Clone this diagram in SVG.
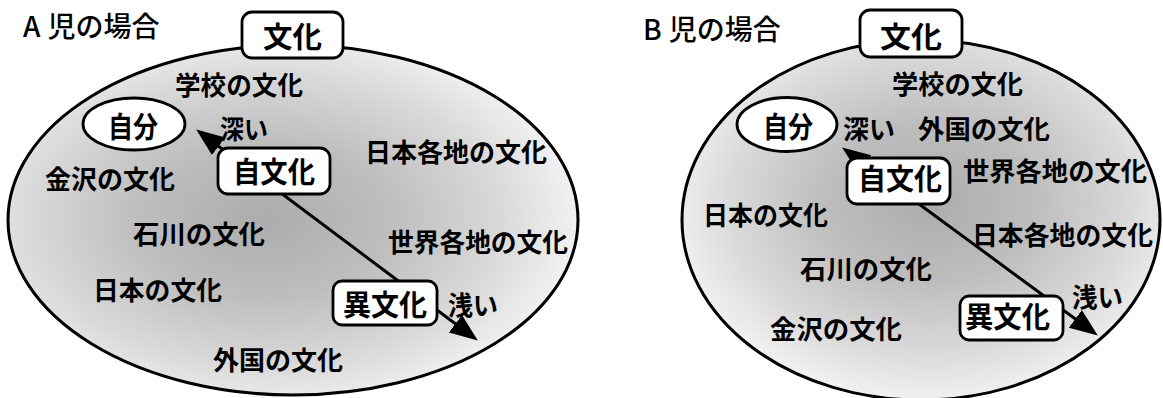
<svg xmlns="http://www.w3.org/2000/svg" width="1163" height="398" viewBox="0 0 1163 398">
<style>
text{font-family:"Noto Sans CJK JP","Noto Sans CJK SC",sans-serif;fill:#000}
.title{font-size:28px;font-weight:500}
.lbl{font-size:26px;font-weight:700}
.bx{font-size:29px;font-weight:700}
.box{fill:#fff;stroke:#000;stroke-width:2.8}
.outer{stroke:#000;stroke-width:3}
.conn{stroke:#000;stroke-width:3;fill:none}
</style>
<defs>
<radialGradient id="gL" cx="0.45" cy="0.5" r="0.56">
<stop offset="0" stop-color="#acacac"/>
<stop offset="0.4" stop-color="#bebebe"/>
<stop offset="0.75" stop-color="#dadada"/>
<stop offset="1" stop-color="#f3f3f3"/>
</radialGradient>
<radialGradient id="gR" cx="0.52" cy="0.45" r="0.56">
<stop offset="0" stop-color="#acacac"/>
<stop offset="0.4" stop-color="#bebebe"/>
<stop offset="0.75" stop-color="#dadada"/>
<stop offset="1" stop-color="#f3f3f3"/>
</radialGradient>
<marker id="ah" markerUnits="userSpaceOnUse" markerWidth="30" markerHeight="24" refX="17" refY="11" orient="auto-start-reverse">
<path d="M0,0 L28,11 L0,22 z" fill="#000"/>
</marker>
</defs>

<!-- Left: A児 -->
<g id="titleA"><text class="title" x="23" y="37">A<tspan dx="7">児の場合</tspan></text></g>
<g id="cultureA">
<ellipse class="outer" cx="293" cy="220" rx="285" ry="175" fill="url(#gL)"/>
</g>
<g id="labelsA">
<text class="lbl" x="175" y="95" textLength="128" lengthAdjust="spacingAndGlyphs">学校の文化</text>
<text class="lbl" x="220" y="139" textLength="48" lengthAdjust="spacingAndGlyphs">深い</text>
<text class="lbl" x="45" y="189" textLength="130" lengthAdjust="spacingAndGlyphs">金沢の文化</text>
<text class="lbl" x="365" y="162" textLength="182" lengthAdjust="spacingAndGlyphs">日本各地の文化</text>
<text class="lbl" x="133" y="244" textLength="132" lengthAdjust="spacingAndGlyphs">石川の文化</text>
<text class="lbl" x="93" y="300" textLength="129" lengthAdjust="spacingAndGlyphs">日本の文化</text>
<text class="lbl" x="213" y="370" textLength="130" lengthAdjust="spacingAndGlyphs">外国の文化</text>
<text class="lbl" x="388" y="252" textLength="180" lengthAdjust="spacingAndGlyphs">世界各地の文化</text>
<text class="lbl" x="448" y="315" textLength="50" lengthAdjust="spacingAndGlyphs">浅い</text>
</g>
<g id="connectorsA">
<path class="conn" d="M205,136 L469,334" marker-start="url(#ah)" marker-end="url(#ah)"/>
</g>
<g id="bunkaA">
<rect class="box" x="242" y="12" width="101" height="46" rx="10"/>
<text class="bx" x="263" y="48" textLength="59" lengthAdjust="spacingAndGlyphs">文化</text>
</g>
<g id="jibunA">
<ellipse class="box" cx="134" cy="124" rx="51" ry="26"/>
<text class="bx" x="108" y="138" textLength="50" lengthAdjust="spacingAndGlyphs">自分</text>
</g>
<g id="jibunkaA">
<rect class="box" x="218" y="148" width="112" height="46" rx="10"/>
<text class="bx" x="233" y="183" textLength="82" lengthAdjust="spacingAndGlyphs">自文化</text>
</g>
<g id="ibunkaA">
<rect class="box" x="333" y="281" width="104" height="44" rx="9"/>
<text class="bx" x="343" y="316" textLength="84" lengthAdjust="spacingAndGlyphs">異文化</text>
</g>

<!-- Right: B児 -->
<g id="titleB"><text class="title" x="643" y="40">B<tspan dx="7">児の場合</tspan></text></g>
<g id="cultureB">
<ellipse class="outer" cx="921" cy="220" rx="239" ry="180" fill="url(#gR)"/>
</g>
<g id="labelsB">
<text class="lbl" x="892" y="94" textLength="131" lengthAdjust="spacingAndGlyphs">学校の文化</text>
<text class="lbl" x="843" y="139" textLength="52" lengthAdjust="spacingAndGlyphs">深い</text>
<text class="lbl" x="918" y="139" textLength="132" lengthAdjust="spacingAndGlyphs">外国の文化</text>
<text class="lbl" x="963" y="181" textLength="184" lengthAdjust="spacingAndGlyphs">世界各地の文化</text>
<text class="lbl" x="703" y="225" textLength="125" lengthAdjust="spacingAndGlyphs">日本の文化</text>
<text class="lbl" x="972" y="245" textLength="181" lengthAdjust="spacingAndGlyphs">日本各地の文化</text>
<text class="lbl" x="800" y="279" textLength="132" lengthAdjust="spacingAndGlyphs">石川の文化</text>
<text class="lbl" x="770" y="339" textLength="132" lengthAdjust="spacingAndGlyphs">金沢の文化</text>
<text class="lbl" x="1072" y="307" textLength="51" lengthAdjust="spacingAndGlyphs">浅い</text>
</g>
<g id="connectorsB">
<path class="conn" d="M851,154 L1089,329" marker-start="url(#ah)" marker-end="url(#ah)"/>
</g>
<g id="bunkaB">
<rect class="box" x="860" y="10" width="102" height="47" rx="10"/>
<text class="bx" x="880" y="48" textLength="62" lengthAdjust="spacingAndGlyphs">文化</text>
</g>
<g id="jibunB">
<ellipse class="box" cx="787" cy="124.5" rx="50" ry="27"/>
<text class="bx" x="763" y="138" textLength="50" lengthAdjust="spacingAndGlyphs">自分</text>
</g>
<g id="jibunkaB">
<rect class="box" x="847" y="158" width="103" height="46" rx="10"/>
<text class="bx" x="858" y="190" textLength="84" lengthAdjust="spacingAndGlyphs">自文化</text>
</g>
<g id="ibunkaB">
<rect class="box" x="960" y="296" width="103" height="44" rx="9"/>
<text class="bx" x="965" y="328" textLength="85" lengthAdjust="spacingAndGlyphs">異文化</text>
</g>
</svg>
